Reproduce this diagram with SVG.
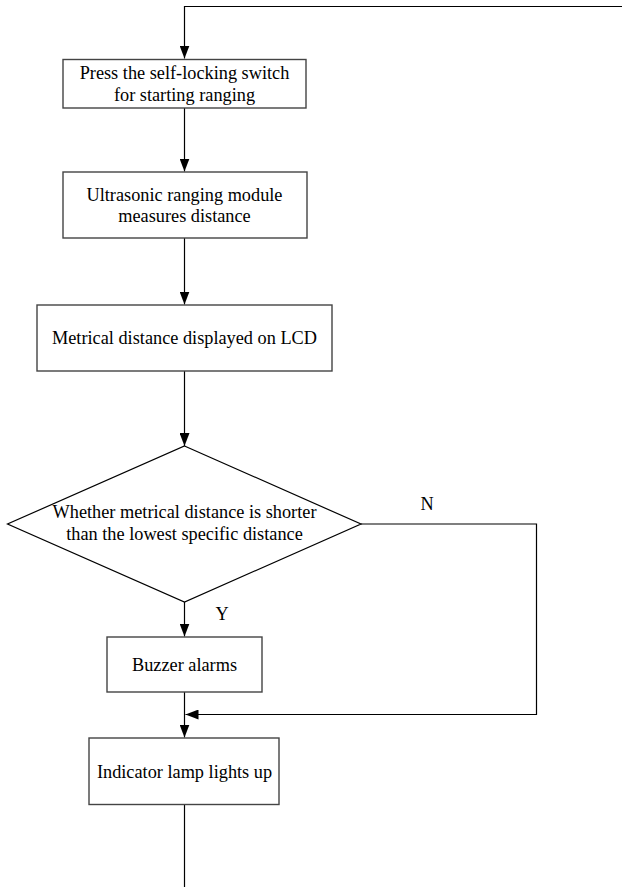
<svg xmlns="http://www.w3.org/2000/svg" width="622" height="887" viewBox="0 0 622 887">
<style>
.box{fill:#fff;stroke:#444;stroke-width:1.4}
.ln{fill:none;stroke:#000;stroke-width:1.2}
text{font-family:"Liberation Serif","Times New Roman",serif;font-size:18.3px;fill:#000;text-anchor:middle}
</style>
<defs>
<marker id="ah" markerUnits="userSpaceOnUse" markerWidth="14" markerHeight="10" refX="13" refY="5" orient="auto">
<path d="M0,0 L13,5 L0,10 Z" fill="#000"/>
</marker>
</defs>
<rect width="622" height="887" fill="#fff"/>
<g id="connectors">
<polyline class="ln" points="622,6.5 184.5,6.5 184.5,58.5" marker-end="url(#ah)"/>
<line class="ln" x1="184.5" y1="108" x2="184.5" y2="171.5" marker-end="url(#ah)"/>
<line class="ln" x1="184.5" y1="238" x2="184.5" y2="304.5" marker-end="url(#ah)"/>
<line class="ln" x1="184.5" y1="371" x2="184.5" y2="446" marker-end="url(#ah)"/>
<line class="ln" x1="184.5" y1="602" x2="184.5" y2="636.5" marker-end="url(#ah)"/>
<line class="ln" x1="184.5" y1="692" x2="184.5" y2="737.5" marker-end="url(#ah)"/>
<polyline class="ln" points="361,524 536.5,524 536.5,714.5 185.5,714.5" marker-end="url(#ah)"/>
<line class="ln" x1="184.5" y1="804" x2="184.5" y2="887"/>
<text x="427" y="510">N</text>
<text x="222" y="620">Y</text>
</g>
<g id="n1">
<rect class="box" x="63" y="59.5" width="243" height="48.5"/>
<text x="184.5" y="78.5">Press the self-locking switch</text>
<text x="184.5" y="101">for starting ranging</text>
</g>
<g id="n2">
<rect class="box" x="63" y="172" width="244" height="66"/>
<text x="184.5" y="200.5">Ultrasonic ranging module</text>
<text x="184.5" y="221.5">measures distance</text>
</g>
<g id="n3">
<rect class="box" x="37" y="305" width="295" height="66"/>
<text x="184.5" y="343.5">Metrical distance displayed on LCD</text>
</g>
<g id="n4">
<polygon class="box" points="184.5,446 361,524 184.5,602 7.5,524" style="stroke:#000;stroke-width:1.2"/>
<text x="184.5" y="518">Whether metrical distance is shorter</text>
<text x="184.5" y="540">than the lowest specific distance</text>
</g>
<g id="n5">
<rect class="box" x="107" y="637" width="155" height="55"/>
<text x="184.5" y="671">Buzzer alarms</text>
</g>
<g id="n6">
<rect class="box" x="89" y="738" width="190" height="66.5"/>
<text x="184.5" y="777.5">Indicator lamp lights up</text>
</g>
</svg>
